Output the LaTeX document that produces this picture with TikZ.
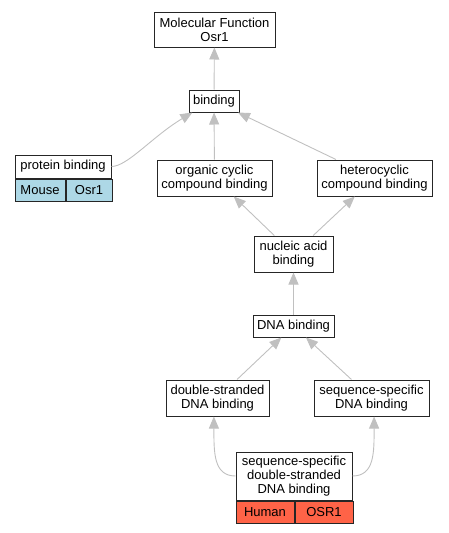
\documentclass[tikz,border=0pt]{standalone}
\usepackage{fontspec}
\setmainfont{Liberation Sans}
\usepackage{xcolor}
\definecolor{mouseblue}{HTML}{ADD8E6}
\definecolor{humanred}{HTML}{FF6347}
\definecolor{linkgray}{HTML}{C0C0C0}
\usetikzlibrary{
arrows.meta,
positioning
}

\begin{document}
\begin{tikzpicture}[
    x=1pt, y=-1pt,
    >={Triangle[length=12pt,width=10pt]},
    every node/.style={font=\fontsize{13}{14}\selectfont},
    term/.style={draw=black!85, line width=1pt, fill=white, inner sep=0pt,
      align=center, minimum height=22pt},
    tall/.style={term, minimum height=36pt},
    mouse/.style={term, fill=mouseblue},
    human/.style={term, fill=humanred},
    link/.style={draw=linkgray, ->, line width=0.9pt},
    every edge/.style={link}]
  \useasboundingbox (0,0) rectangle (448,533);
  \node[tall, minimum width=121pt, minimum height=35pt] (mf) at (214.5,29.5)
      {Molecular Function\\Osr1};
  \node[term, minimum width=50pt] (bind) at (214,101) {binding};
  \node[term, minimum width=96pt, minimum height=23pt] (pb) at (63,166.5)
      {protein binding};
  \node[mouse, minimum width=50pt, below right=0pt of pb.south west] (mouse) {Mouse};
  \node[mouse, minimum width=46pt, right=0pt of mouse] (osr) {Osr1};
  \node[tall, minimum width=115pt] (org) at (214.5,178) {organic cyclic\\compound binding};
  \node[tall, minimum width=115pt] (het) at (374.5,178) {heterocyclic\\compound binding};
  \node[tall, minimum width=79pt] (nuc) at (293.5,254) {nucleic acid\\binding};
  \node[term, minimum width=81pt] (dna) at (293.5,326) {DNA binding};
  \node[tall, minimum width=103pt] (ds) at (217.5,398) {double-stranded\\DNA binding};
  \node[tall, minimum width=115pt] (ss) at (371.5,398) {sequence-specific\\DNA binding};
  \node[term, minimum width=116pt, minimum height=48pt] (ssds) at (294,476)
      {sequence-specific\\double-stranded\\DNA binding};
  \node[human, minimum width=58pt, below right=0pt of ssds.south west] (human) {Human};
  \node[human, minimum width=58pt, right=0pt of human] (hosr) {OSR1};
  \path
      (bind) edge (mf)
      (org) edge (bind)
      (het) edge (bind)
      (nuc) edge (org)
      (nuc) edge (het)
      (dna) edge (nuc)
      (ds) edge (dna)
      (ss) edge (dna);
  \draw[link] (pb.east) .. controls +(16,0) and +(-40,24) .. (bind.-152);
  \draw[link] (ssds.west) .. controls +(-22,0) and +(0,36) .. (ds.-101);
  \draw[link] (ssds.east) .. controls +(22,0) and +(0,36) .. (ss.-82);
\end{tikzpicture}
\end{document}
